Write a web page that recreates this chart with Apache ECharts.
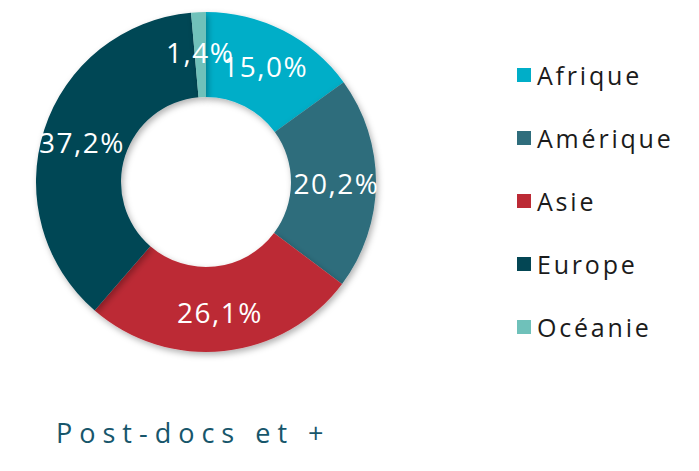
<!DOCTYPE html>
<html>
<head>
<meta charset="utf-8">
<title>Post-docs et +</title>
<script src="https://cdn.jsdelivr.net/npm/echarts@6/dist/echarts.min.js"></script>
<style>
    html, body { margin: 0; padding: 0; background: #fff; }
    #chart { width: 699px; height: 471px; }
    /* the original uses wide tracking, done through the svg renderer */
    #chart text[fill="#17566b"] { letter-spacing: 7px; }
    #chart text[fill="#1b1b1b"] { letter-spacing: 2.8px; }
    #chart text[fill="#fff"] { letter-spacing: 1.5px; }
</style>
</head>
<body>
<div id="chart"></div>
<script>
// data
const regions = ['Afrique', 'Amérique', 'Asie', 'Europe', 'Océanie'];
const shares = [15.0, 20.2, 26.1, 37.2, 1.4];
const colors = ['#00aec8', '#2f6d7c', '#bc2a35', '#034654', '#6fc1ba'];
const titleText = 'Post-docs et +';

const fmt = v => v.toFixed(1).replace('.', ',') + '%';

const chart = echarts.init(document.getElementById('chart'), null, { renderer: 'svg' });

chart.setOption({
    animation: false,
    color: colors,
    title: {
        text: titleText,
        left: 56,
        top: 416,
        padding: 0,
        textStyle: {
            color: '#17566b',
            fontFamily: 'Open Sans',
            fontWeight: 'normal',
            fontSize: 27,
            lineHeight: 32
        }
    },
    legend: {
        orient: 'vertical',
        left: 517,
        top: 60,
        padding: 0,
        itemWidth: 14,
        itemHeight: 14,
        itemGap: 33,
        icon: 'rect',
        textStyle: {
            color: '#1b1b1b',
            fontFamily: 'Open Sans',
            fontSize: 25,
            lineHeight: 30,
            padding: [0, 0, 0, 1]
        },
        data: regions
    },
    series: [{
        type: 'pie',
        center: [206, 182],
        radius: [85, 170],
        startAngle: 90,
        clockwise: true,
        avoidLabelOverlap: false,
        itemStyle: {
            shadowBlur: 6,
            shadowOffsetX: 2,
            shadowOffsetY: 3,
            shadowColor: 'rgba(0,0,0,0.3)'
        },
        label: {
            show: true,
            position: 'inside',
            color: '#fff',
            fontFamily: 'Open Sans',
            fontSize: 28,
            formatter: p => fmt(p.value)
        },
        labelLine: { show: false },
        labelLayout: { hideOverlap: false },
        emphasis: { disabled: true },
        data: regions.map((name, i) => ({ name: name, value: shares[i] }))
    }]
});
</script>
</body>
</html>
